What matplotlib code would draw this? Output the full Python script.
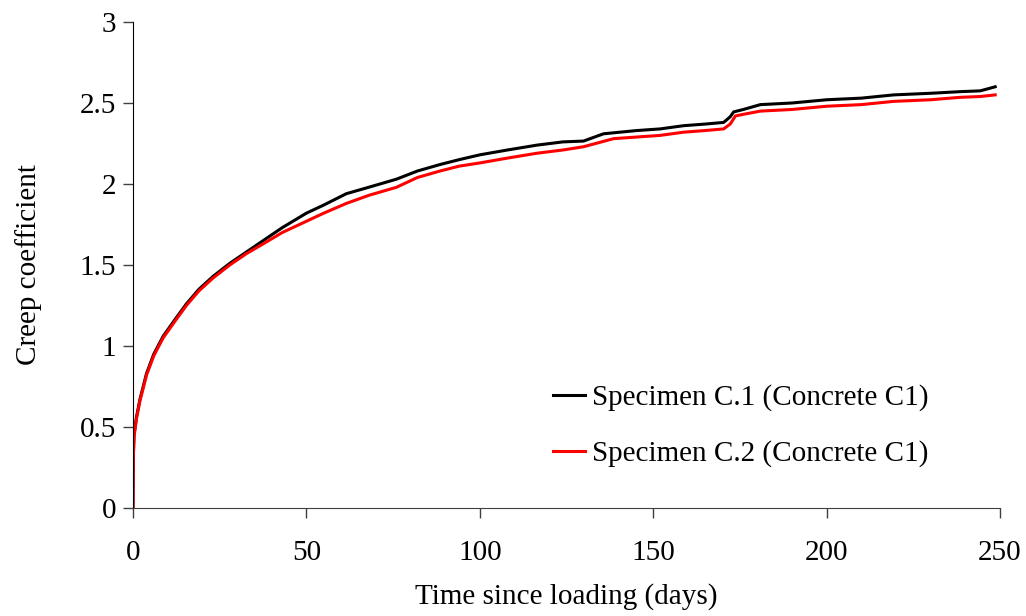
import matplotlib
matplotlib.use("Agg")
import matplotlib.pyplot as plt

plt.rcParams['font.family'] = ['Liberation Serif', 'DejaVu Serif']

# Specimen C.1 (black)
t1 = [0, 0.1, 0.3, 1.0, 2.0, 3.9, 6.0, 8.7, 12.0, 15.4, 19.0, 23.1, 27.9, 32.7, 37.5,
      43.0, 50.0, 55.0, 61.5, 68.0, 76.0, 82.0, 88.5, 94.0, 100.0, 108.0, 116.5,
      124.0, 129.9, 135.7, 145.3, 152.0, 158.8, 165.0, 170.3, 172.2, 173.2, 176.0,
      180.9, 190.0, 200.0, 210.0, 219.3, 230.0, 238.5, 244.3, 248.6]
c1 = [0, 0.32, 0.45, 0.56, 0.67, 0.83, 0.95, 1.06, 1.16, 1.26, 1.35, 1.43, 1.51, 1.58,
      1.65, 1.73, 1.82, 1.87, 1.94, 1.98, 2.03, 2.08, 2.12, 2.15, 2.18, 2.21, 2.24,
      2.26, 2.265, 2.31, 2.33, 2.34, 2.36, 2.37, 2.38, 2.415, 2.445, 2.46,
      2.49, 2.50, 2.52, 2.53, 2.55, 2.56, 2.57, 2.575, 2.60]

# Specimen C.2 (red)
t2 = [0, 0.1, 0.3, 1.0, 2.0, 3.9, 6.0, 8.7, 12.0, 15.4, 19.0, 23.1, 27.9, 32.7, 37.5,
      43.0, 50.0, 55.0, 61.5, 68.0, 76.0, 82.0, 88.5, 94.0, 100.0, 108.0, 116.5,
      124.0, 129.9, 138.6, 145.3, 152.0, 158.8, 165.0, 170.3, 172.2, 173.7, 176.0,
      180.9, 190.0, 200.0, 210.0, 219.3, 230.0, 238.5, 244.3, 248.6]
c2 = [0, 0.31, 0.44, 0.55, 0.66, 0.82, 0.94, 1.05, 1.15, 1.25, 1.34, 1.42, 1.50, 1.57,
      1.63, 1.70, 1.77, 1.82, 1.88, 1.93, 1.98, 2.04, 2.08, 2.11, 2.13, 2.16, 2.19,
      2.21, 2.23, 2.28, 2.29, 2.30, 2.32, 2.33, 2.34, 2.37, 2.42, 2.43,
      2.45, 2.46, 2.48, 2.49, 2.51, 2.52, 2.535, 2.54, 2.55]

fig = plt.figure(figsize=(10.26, 6.16), dpi=100)
ax = fig.add_axes([0.1296, 0.1753, 0.8451, 0.789])

ax.plot(t1, c1, color='black', lw=2.2, label="Specimen C.1 (Concrete C1)")
ax.plot(t2, c2, color='#ff0000', lw=2.2, label="Specimen C.2 (Concrete C1)")

ax.set_xlim(0, 250)
ax.set_ylim(0, 3)
ax.set_xticks([0, 50, 100, 150, 200, 250])
ax.set_yticks([0, 0.5, 1, 1.5, 2, 2.5, 3])
ax.set_yticklabels(['0', '0.5', '1', '1.5', '2', '2.5', '3'])

ax.spines['top'].set_visible(False)
ax.spines['right'].set_visible(False)
ax.spines['bottom'].set_color('#404040')
ax.tick_params(direction='out', length=7, width=1, labelsize=21, colors='#404040',
               labelcolor='black')
ax.tick_params(axis='x', pad=16)
ax.tick_params(axis='y', pad=5)

ax.set_xlabel("Time since loading (days)", fontsize=21, labelpad=12)
ax.set_ylabel("Creep coefficient", fontsize=21, labelpad=27)

ax.legend(loc='lower right', bbox_to_anchor=(0.948, 0.03), frameon=False,
          fontsize=21, handlelength=1.1, handletextpad=0.25, labelspacing=1.0)

fig.savefig("out.png", dpi=100)
